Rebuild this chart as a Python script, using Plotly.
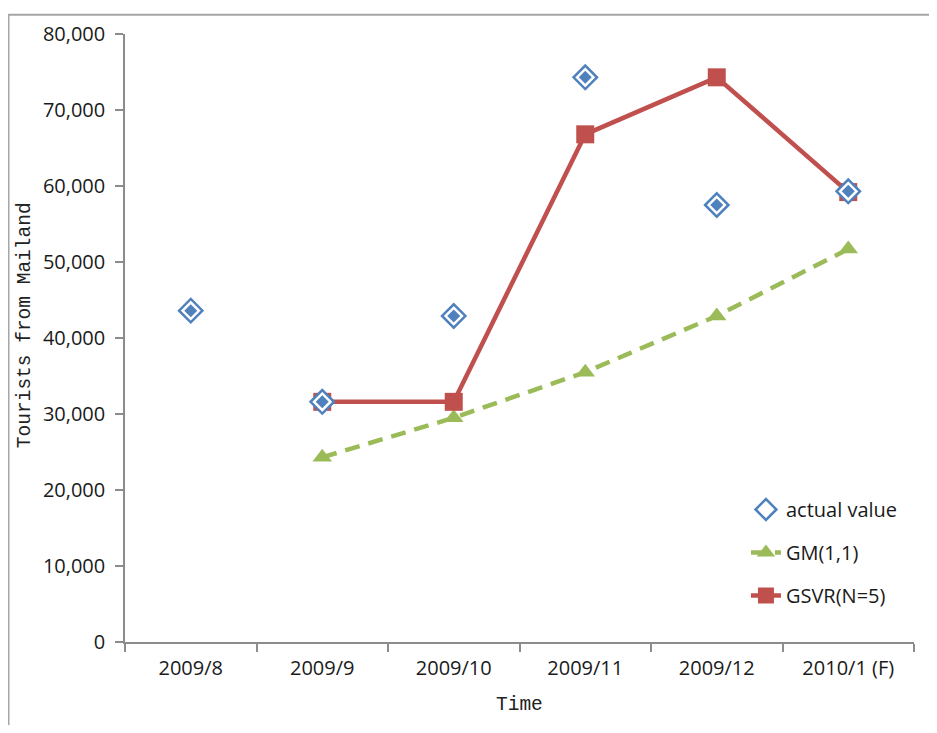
import plotly.graph_objects as go

months = ["2009/8", "2009/9", "2009/10", "2009/11", "2009/12", "2010/1 (F)"]
actual = [43600, 31600, 42900, 74300, 57500, 59300]
gm_months = ["2009/9", "2009/10", "2009/11", "2009/12", "2010/1 (F)"]
gm_vals = [24300, 29500, 35500, 42900, 51700]
gsvr_months = ["2009/9", "2009/10", "2009/11", "2009/12", "2010/1 (F)"]
gsvr_vals = [31600, 31600, 66800, 74300, 59200]

BLUE = "#4F81BD"
GREEN = "#9BBB59"
RED = "#C0504D"
AXIS = "#8C8C8C"
TICK_FONT = dict(family="Open Sans", size=20, color="#1a1a1a")
TITLE_FONT = dict(family="Liberation Mono", size=19.5, color="#222222")

# figure sits 8px inside the page (body margin), so keep it inside the window
W, H = 921, 717
L, R, T, B = 117, 15, 20, 83
PW, PH = W - L - R, H - T - B

fig = go.Figure()

fig.add_trace(go.Scatter(
    x=gm_months, y=gm_vals, mode="lines+markers", name="GM(1,1)",
    legendrank=2, legendgroup="gm",
    line=dict(color=GREEN, width=4.5, dash="15px,9px"),
    marker=dict(symbol="triangle-up", size=17, color=GREEN),
))
fig.add_trace(go.Scatter(
    x=gsvr_months, y=gsvr_vals, mode="lines+markers", name="GSVR(N=5)",
    legendrank=3, legendgroup="gsvr",
    line=dict(color=RED, width=4.5),
    marker=dict(symbol="square", size=18, color=RED),
))
# diamond with a white ring inside
fig.add_trace(go.Scatter(
    x=months, y=actual, mode="markers", name="actual value",
    legendrank=1, legendgroup="act",
    marker=dict(symbol="diamond", size=18, color="white",
                line=dict(color=BLUE, width=2.5)),
))
fig.add_trace(go.Scatter(
    x=months, y=actual, mode="markers", showlegend=False, hoverinfo="skip",
    legendgroup="act",
    marker=dict(symbol="diamond", size=10, color=BLUE),
))

fig.update_layout(
    width=W, height=H,
    plot_bgcolor="white", paper_bgcolor="white",
    margin=dict(l=L, r=R, t=T, b=B),
    showlegend=True,
    legend=dict(
        x=0.787, y=0.25, xanchor="left", yanchor="top",
        font=dict(family="Open Sans", size=20, color="#1a1a1a"),
        tracegroupgap=14, bgcolor="rgba(0,0,0,0)",
    ),
    xaxis=dict(
        type="category", categoryorder="array", categoryarray=months,
        range=[-0.5, 5.5], showgrid=False, zeroline=False,
        showline=True, linecolor=AXIS, linewidth=1.5,
        ticks="outside", ticklen=8, tickcolor=AXIS, tickwidth=1.5,
        tickson="boundaries", tickfont=TICK_FONT, ticklabelstandoff=7,
    ),
    yaxis=dict(
        range=[0, 80000], dtick=10000, tickformat=",d",
        showgrid=False, zeroline=False,
        showline=True, linecolor=AXIS, linewidth=1.5,
        ticks="outside", ticklen=8, tickcolor=AXIS, tickwidth=1.5,
        tickfont=TICK_FONT, ticklabelstandoff=6,
    ),
)

# axis titles
fig.add_annotation(text="Tourists from Mailand", xref="paper", yref="paper",
                   x=(17 - L) / PW, y=(T + PH - 314) / PH, textangle=-90,
                   showarrow=False, font=TITLE_FONT,
                   xanchor="center", yanchor="middle")
fig.add_annotation(text="Time", xref="paper", yref="paper",
                   x=(511 - L) / PW, y=(T + PH - 698) / PH,
                   showarrow=False, font=TITLE_FONT,
                   xanchor="center", yanchor="middle")

# outer chart frame (top and left edges visible)
fig.add_shape(type="line", xref="paper", yref="paper",
              x0=-L / PW, x1=(W + 10 - L) / PW,
              y0=1 + (T - 0.5) / PH, y1=1 + (T - 0.5) / PH,
              line=dict(color="#A6A6A6", width=2))
fig.add_shape(type="line", xref="paper", yref="paper",
              x0=-(L - 0.5) / PW, x1=-(L - 0.5) / PW,
              y0=1 + T / PH, y1=-(B + 10) / PH,
              line=dict(color="#A6A6A6", width=2))

fig.write_html("out.html")
